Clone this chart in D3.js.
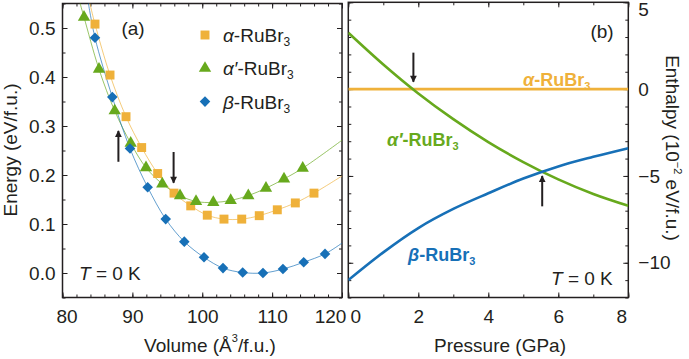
<!DOCTYPE html>
<html>
<head>
<meta charset="utf-8">
<script src="https://cdn.jsdelivr.net/npm/d3@7"></script>
<style>
body{margin:0;background:#fff}
text{font-family:"Liberation Sans",Arial,sans-serif;fill:#231f20}
.domain{display:none}
.tick line{stroke:#231f20;stroke-width:1}
</style>
</head>
<body>
<div id="viz-container"></div>
<script>
// ---- data ----
const volumeTicks = [80, 90, 100, 110, 120];
const energyTicks = [0.0, 0.1, 0.2, 0.3, 0.4, 0.5];
const pressureTicks = [0, 2, 4, 6, 8];
const enthalpyTicks = [5, 0, -5, -10];

// alpha-RuBr3 (squares)
const volAlpha = [84.65, 86.80, 89.09, 91.33, 93.62, 95.96, 98.35, 100.72, 103.11, 105.65, 108.16, 110.74, 113.32, 115.99];
const eAlpha = [0.508, 0.404, 0.319, 0.256, 0.203, 0.163, 0.137, 0.118, 0.110, 0.110, 0.117, 0.129, 0.143, 0.163];
// alpha'-RuBr3 (triangles)
const volAlphaP = [83.08, 85.22, 87.47, 89.76, 91.95, 94.28, 96.82, 99.11, 101.58, 104.07, 106.59, 109.12, 111.70, 114.38];
const eAlphaP = [0.522, 0.416, 0.331, 0.265, 0.215, 0.182, 0.158, 0.146, 0.144, 0.148, 0.158, 0.173, 0.192, 0.214];
// beta-RuBr3 (diamonds)
const volBeta = [84.65, 87.13, 89.66, 92.19, 94.77, 97.43, 100.25, 102.97, 105.79, 108.69, 111.55, 114.52, 117.57];
const eBeta = [0.480, 0.359, 0.254, 0.175, 0.110, 0.064, 0.032, 0.010, 0.001, 0.000, 0.008, 0.022, 0.039];

// where the fitted curves leave the frame
const fitStartAlpha = [83.9, 0.551], fitEndAlpha = [120, 0.198];
const fitStartAlphaP = [82.5, 0.551], fitEndAlphaP = [120, 0.271];
const fitStartBeta = [83.7, 0.551], fitEndBeta = [120, 0.061];

// enthalpy vs pressure (10^-2 eV/f.u.)
const pressure = [0, 1, 2, 3, 4, 5, 6, 7, 8];
const hAlpha = [0, 0, 0, 0, 0, 0, 0, 0, 0];
const hAlphaP = [3.25, 1.42, -0.25, -1.73, -3.05, -4.2, -5.2, -6.04, -6.72];
const hBeta = [-11.0, -9.4, -8.0, -6.9, -6.0, -5.15, -4.45, -3.9, -3.4];

// arrows [x, yFrom, yTo]
const arrowsA = [[88.0, 0.227, 0.290], [95.9, 0.247, 0.184]];
const arrowsB = [[1.86, 2.1, 0.42], [5.54, -6.75, -5.0]];

const cOrange = "#efb13a", cGreen = "#67a91d", cBlue = "#1770b7";
const FS = 19;

let svg = d3.select("#viz-container")
  .append("svg")
    .attr("width", 689)
    .attr("height", 359);

let defs = svg.append("defs");
defs.append("marker")
  .attr("id", "head")
  .attr("viewBox", "0 0 10 10")
  .attr("refX", 9).attr("refY", 5)
  .attr("markerWidth", 4).attr("markerHeight", 3.4)
  .attr("markerUnits", "strokeWidth")
  .attr("orient", "auto")
  .append("path").attr("d", "M0,0L10,5L0,10z").attr("fill", "#231f20");

// ---------- panel (a) ----------
let x1 = d3.scaleLinear().domain([80, 120]).range([62.5, 342]);
let y1 = d3.scaleLinear().domain([-0.05, 0.55]).range([297.5, 3.5]);

defs.append("clipPath").attr("id", "clipA")
  .append("rect").attr("x", 62.5).attr("y", 3.5).attr("width", 279.5).attr("height", 294);

function ticksFrame(g, x, y, xMaj, xMin, yMaj, yMin) {
  let [x0, xr] = x.range(), [yb, yt] = y.range();
  g.append("g").attr("transform", `translate(0,${yb})`)
    .call(d3.axisBottom(x).tickValues(xMin).tickSize(-3).tickFormat(""));
  g.append("g").attr("transform", `translate(0,${yt})`)
    .call(d3.axisTop(x).tickValues(xMin).tickSize(-3).tickFormat(""));
  g.append("g").attr("transform", `translate(0,${yb})`)
    .call(d3.axisBottom(x).tickValues(xMaj).tickSize(-5).tickFormat(""));
  g.append("g").attr("transform", `translate(0,${yt})`)
    .call(d3.axisTop(x).tickValues(xMaj).tickSize(-5).tickFormat(""));
  g.append("g").attr("transform", `translate(${x0},0)`)
    .call(d3.axisLeft(y).tickValues(yMin).tickSize(-3).tickFormat(""));
  g.append("g").attr("transform", `translate(${xr},0)`)
    .call(d3.axisRight(y).tickValues(yMin).tickSize(-3).tickFormat(""));
  g.append("g").attr("transform", `translate(${x0},0)`)
    .call(d3.axisLeft(y).tickValues(yMaj).tickSize(-5).tickFormat(""));
  g.append("g").attr("transform", `translate(${xr},0)`)
    .call(d3.axisRight(y).tickValues(yMaj).tickSize(-5).tickFormat(""));
  g.append("rect")
    .attr("x", x0).attr("y", yt).attr("width", xr - x0).attr("height", yb - yt)
    .attr("fill", "none").attr("stroke", "#231f20").attr("stroke-width", 1.5);
}

let gA = svg.append("g");
ticksFrame(gA, x1, y1, volumeTicks, d3.range(80, 121, 2),
  energyTicks, d3.range(-0.05, 0.551, 0.05));

// tick labels
let xa1 = gA.append("g").attr("transform", "translate(0,297.5)")
  .call(d3.axisBottom(x1).tickValues(volumeTicks).tickSize(0).tickPadding(12));
xa1.selectAll("text").attr("font-size", FS)
  .attr("dx", d => d == 80 ? 4 : d == 120 ? -12 : 0);
gA.append("g").attr("transform", "translate(62.5,0)")
  .call(d3.axisLeft(y1).tickValues(energyTicks).tickSize(0).tickPadding(7).tickFormat(d3.format(".1f")))
  .selectAll("text").attr("font-size", FS);

let lineA = d3.line().x(d => x1(d[0])).y(d => y1(d[1])).curve(d3.curveCatmullRom.alpha(0.5));
let fits = [
  [[fitStartAlpha].concat(d3.zip(volAlpha, eAlpha), [fitEndAlpha]), cOrange],
  [[fitStartAlphaP].concat(d3.zip(volAlphaP, eAlphaP), [fitEndAlphaP]), cGreen],
  [[fitStartBeta].concat(d3.zip(volBeta, eBeta), [fitEndBeta]), cBlue]
];
gA.append("g").attr("clip-path", "url(#clipA)")
  .selectAll("path").data(fits).enter()
  .append("path")
    .attr("d", d => lineA(d[0]))
    .attr("fill", "none")
    .attr("stroke", d => d[1])
    .attr("stroke-width", 0.9)
    .attr("opacity", 0.75);

let sq = d3.symbol().type(d3.symbolSquare).size(80);
let tri = d3.symbol().type(d3.symbolTriangle).size(66);
let dia = d3.symbol().type(d3.symbolSquare).size(56);

gA.selectAll(".sq").data(d3.zip(volAlpha, eAlpha)).enter()
  .append("path").attr("class", "sq")
  .attr("d", sq)
  .attr("transform", d => `translate(${x1(d[0])},${y1(d[1])})`)
  .attr("fill", cOrange);
gA.selectAll(".tri").data(d3.zip(volAlphaP, eAlphaP)).enter()
  .append("path").attr("class", "tri")
  .attr("d", tri)
  .attr("transform", d => `translate(${x1(d[0])},${y1(d[1])})`)
  .attr("fill", cGreen);
gA.selectAll(".dia").data(d3.zip(volBeta, eBeta)).enter()
  .append("path").attr("class", "dia")
  .attr("d", dia)
  .attr("transform", d => `translate(${x1(d[0])},${y1(d[1])}) rotate(45)`)
  .attr("fill", cBlue);

gA.selectAll(".arr").data(arrowsA).enter()
  .append("line").attr("class", "arr")
  .attr("x1", d => x1(d[0])).attr("x2", d => x1(d[0]))
  .attr("y1", d => y1(d[1])).attr("y2", d => y1(d[2]))
  .attr("stroke", "#231f20").attr("stroke-width", 2)
  .attr("marker-end", "url(#head)");

// legend
let legend = [["α", "", sq, cOrange, 0], ["α", "′", tri, cGreen, 0], ["β", "", dia, cBlue, 45]];
let lg = gA.selectAll(".lg").data(legend).enter()
  .append("g").attr("class", "lg")
  .attr("transform", (d, i) => `translate(205,${35 + i * 33.3})`);
lg.append("path").attr("d", d => d[2]()).attr("fill", d => d[3])
  .attr("transform", d => `rotate(${d[4]})`);
let lt = lg.append("text").attr("x", 18).attr("y", 7).attr("font-size", FS);
lt.append("tspan").attr("font-style", "italic").text(d => d[0] + d[1]);
lt.append("tspan").text("-RuBr");
lt.append("tspan").attr("font-size", 12).attr("dy", 4).text("3");

gA.append("text").attr("x", 133).attr("y", 35).attr("text-anchor", "middle")
  .attr("font-size", FS).text("(a)");
let tA = gA.append("text").attr("x", 79).attr("y", 280).attr("font-size", FS);
tA.append("tspan").attr("font-style", "italic").text("T");
tA.append("tspan").text(" = 0 K");

let xt1 = svg.append("text").attr("x", 210).attr("y", 352).attr("text-anchor", "middle").attr("font-size", FS);
xt1.append("tspan").text("Volume (Å");
xt1.append("tspan").attr("font-size", 11).attr("dy", -10).text("3");
xt1.append("tspan").attr("dy", 10).text("/f.u.)");
svg.append("text").attr("transform", "translate(17,150) rotate(-90)")
  .attr("text-anchor", "middle").attr("font-size", FS).text("Energy (eV/f.u.)");

// ---------- panel (b) ----------
let x2 = d3.scaleLinear().domain([0, 8]).range([348.3, 628.3]);
let y2 = d3.scaleLinear().domain([-12, 5]).range([297.5, 2.3]);

defs.append("clipPath").attr("id", "clipB")
  .append("rect").attr("x", 348.3).attr("y", 2.3).attr("width", 280).attr("height", 295.2);

let gB = svg.append("g");
ticksFrame(gB, x2, y2, pressureTicks, d3.range(0, 8.1, 1), enthalpyTicks, d3.range(-12, 5.1, 1));

gB.append("g").attr("transform", "translate(0,297.5)")
  .call(d3.axisBottom(x2).tickValues(pressureTicks).tickSize(0).tickPadding(12))
  .selectAll("text").attr("font-size", FS)
  .attr("dx", d => d == 0 ? 7 : d == 8 ? -7 : 0);
gB.append("g").attr("transform", "translate(628.3,0)")
  .call(d3.axisRight(y2).tickValues(enthalpyTicks).tickSize(0).tickPadding(10).tickFormat(d3.format("")))
  .selectAll("text").attr("font-size", FS)
  .attr("dy", d => d == 5 ? "0.7em" : "0.32em");

let lineB = d3.line().x((d, i) => x2(pressure[i])).y(d => y2(d)).curve(d3.curveMonotoneX);
gB.append("g").attr("clip-path", "url(#clipB)")
  .selectAll("path").data([[hAlpha, cOrange], [hAlphaP, cGreen], [hBeta, cBlue]]).enter()
  .append("path")
    .attr("d", d => lineB(d[0]))
    .attr("fill", "none")
    .attr("stroke", d => d[1])
    .attr("stroke-width", 2.6);

gB.selectAll(".arr").data(arrowsB).enter()
  .append("line").attr("class", "arr")
  .attr("x1", d => x2(d[0])).attr("x2", d => x2(d[0]))
  .attr("y1", d => y2(d[1])).attr("y2", d => y2(d[2]))
  .attr("stroke", "#231f20").attr("stroke-width", 2)
  .attr("marker-end", "url(#head)");

let labB = [["α", "", 523, 86, cOrange], ["α", "′", 387, 146, cGreen], ["β", "", 408, 261, cBlue]];
let lb = gB.selectAll(".lb").data(labB).enter()
  .append("text").attr("class", "lb")
  .attr("x", d => d[2]).attr("y", d => d[3])
  .attr("font-size", 18).attr("font-weight", "bold")
  .style("fill", d => d[4]);
lb.append("tspan").attr("font-style", "italic").text(d => d[0] + d[1]);
lb.append("tspan").text("-RuBr");
lb.append("tspan").attr("font-size", 11).attr("dy", 4).text("3");

gB.append("text").attr("x", 602).attr("y", 38).attr("text-anchor", "middle")
  .attr("font-size", FS).text("(b)");
let tB = gB.append("text").attr("x", 551).attr("y", 285).attr("font-size", FS);
tB.append("tspan").attr("font-style", "italic").text("T");
tB.append("tspan").text(" = 0 K");

svg.append("text").attr("x", 500).attr("y", 352).attr("text-anchor", "middle")
  .attr("font-size", FS).text("Pressure (GPa)");
let yt2 = svg.append("text").attr("transform", "translate(666,148) rotate(90)")
  .attr("text-anchor", "middle").attr("font-size", FS);
yt2.append("tspan").text("Enthalpy (10");
yt2.append("tspan").attr("font-size", 11).attr("dy", -8).text("−2");
yt2.append("tspan").attr("dy", 8).text(" eV/f.u.)");
</script>
</body>
</html>
